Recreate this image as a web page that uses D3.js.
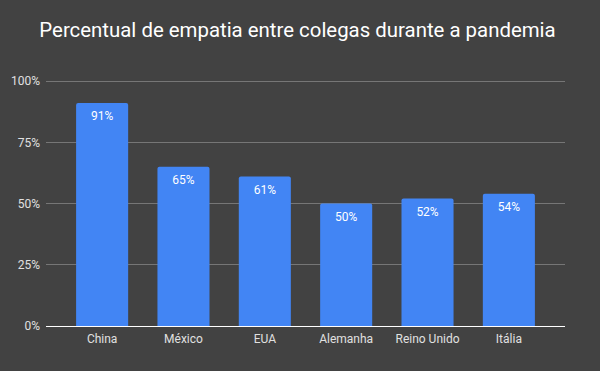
<!DOCTYPE html>
<html><head><meta charset="utf-8">
<script src="https://cdn.jsdelivr.net/npm/d3@7"></script>
<style>body{margin:0;background:#424242}svg{display:block}</style>
</head><body>
<script>
const categories = ["China","México","EUA","Alemanha","Reino Unido","Itália"];
const values = [91,65,61,50,52,54];
const yTicks = [0,25,50,75,100];
const title = "Percentual de empatia entre colegas durante a pandemia";

const W=600,H=371;
const svg=d3.select("body").append("svg").attr("width",W).attr("height",H)
  .style("font-family","Roboto, sans-serif");
svg.append("rect").attr("width",W).attr("height",H).attr("fill","#424242");
svg.append("text").attr("x",297.5).attr("y",37).attr("text-anchor","middle")
  .attr("fill","#ffffff").attr("font-size",20.4).text(title);

const x=d3.scaleBand().domain(categories).range([46,565]).paddingInner(0.36).paddingOuter(0.37);
const y=d3.scaleLinear().domain([0,100]).range([326,81]);

const grid=svg.append("g");
grid.selectAll("line").data(yTicks.filter(d=>d>0)).join("line")
  .attr("x1",46).attr("x2",565).attr("y1",d=>y(d)).attr("y2",d=>y(d))
  .attr("stroke","#767676").attr("stroke-width",1).attr("shape-rendering","crispEdges");

const yAxis=d3.axisLeft(y).tickValues(yTicks).tickFormat(d=>d+"%").tickSize(0).tickPadding(6);
const ga=svg.append("g").attr("transform","translate(46,0)").call(yAxis);
ga.select(".domain").remove();
ga.selectAll("text").attr("fill","#e0e0e0").attr("font-size",12).attr("font-family","Roboto, sans-serif");

const r=2;
svg.append("g").selectAll("path").data(values).join("path")
  .attr("fill","#4285f4")
  .attr("d",(d,i)=>{
    const x0=x(categories[i]), w=x.bandwidth(), y0=y(d), yb=y(0);
    return `M${x0},${yb}V${y0+r}Q${x0},${y0} ${x0+r},${y0}H${x0+w-r}Q${x0+w},${y0} ${x0+w},${y0+r}V${yb}Z`;
  });

svg.append("g").selectAll("text").data(values).join("text")
  .attr("x",(d,i)=>x(categories[i])+x.bandwidth()/2).attr("y",d=>y(d)+17)
  .attr("text-anchor","middle").attr("fill","#ffffff").attr("font-size",12)
  .text(d=>d+"%");

svg.append("line").attr("x1",46).attr("x2",565).attr("y1",y(0)).attr("y2",y(0))
  .attr("stroke","#ffffff").attr("stroke-width",1).attr("shape-rendering","crispEdges");

const xAxis=d3.axisBottom(x).tickSize(0).tickPadding(8);
const gx=svg.append("g").attr("transform",`translate(0,${y(0)})`).call(xAxis);
gx.select(".domain").remove();
gx.selectAll("text").attr("fill","#e0e0e0").attr("font-size",12).attr("font-family","Roboto, sans-serif");
</script>
</body></html>
